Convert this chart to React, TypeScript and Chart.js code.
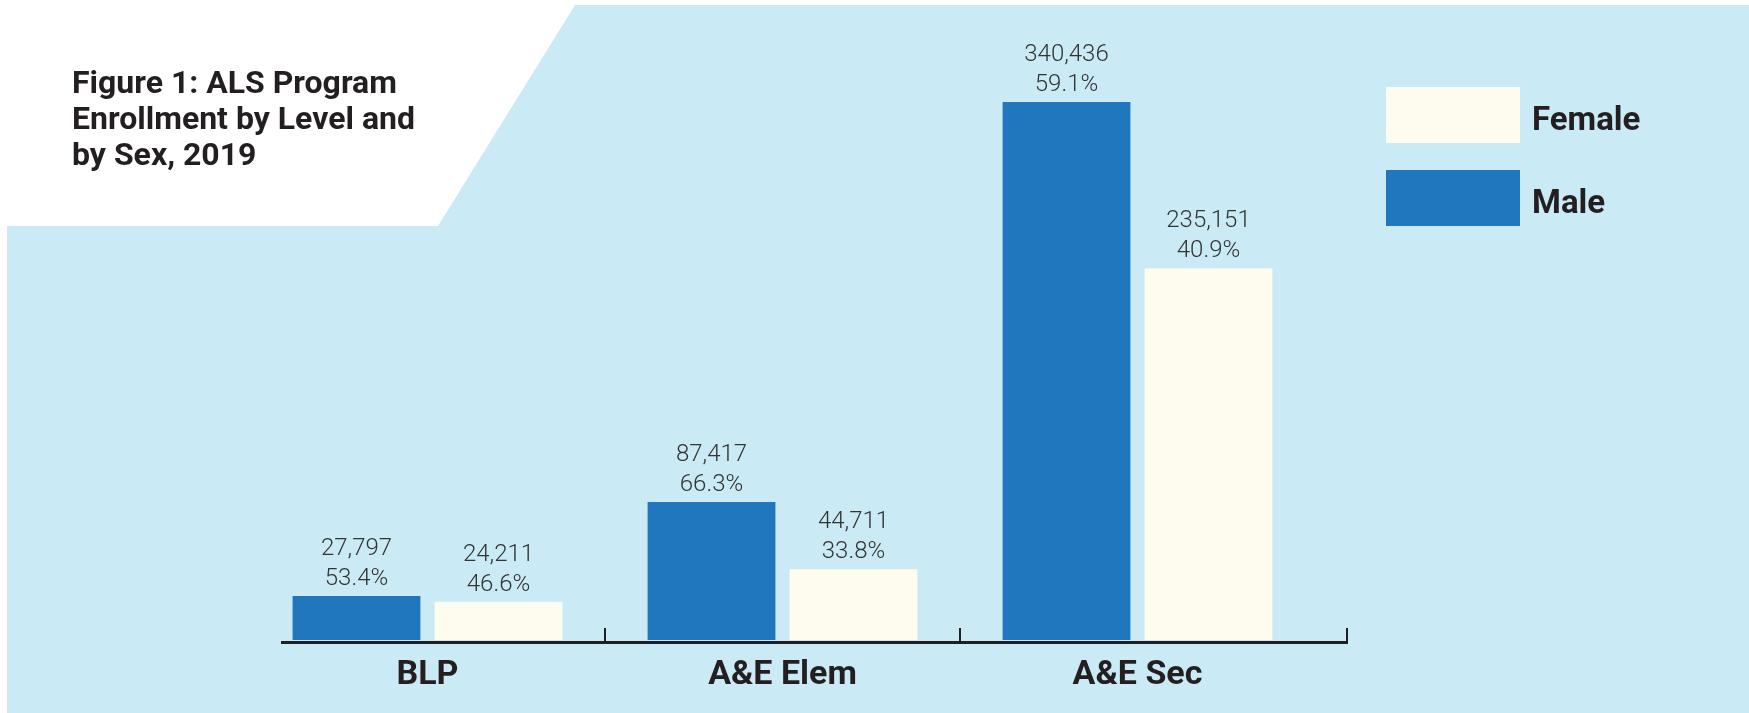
import React, { useEffect, useRef } from "react";
import { Chart, registerables } from "chart.js";

Chart.register(...registerables);

const categories = ["BLP", "A&E Elem", "A&E Sec"];
const maleValues = [27797, 87417, 340436];
const femaleValues = [24211, 44711, 235151];
const malePercents = ["53.4%", "66.3%", "59.1%"];
const femalePercents = ["46.6%", "33.8%", "40.9%"];
const titleLines = ["Figure 1: ALS Program", "Enrollment by Level and", "by Sex, 2019"];
const legendLabels = ["Female", "Male"];

const W = 1749;
const H = 713;
const BG = "#CAEAF5";
const MALE = "#2177BE";
const FEMALE = "#FEFCEF";
const DARK = "#231F20";

const fmt = (v: number) => v.toLocaleString("en-US");

const decorPlugin = {
  id: "decor",
  beforeDraw(chart: any) {
    const ctx = chart.ctx;
    ctx.save();
    ctx.fillStyle = "#ffffff";
    ctx.fillRect(0, 0, W, H);
    ctx.fillStyle = BG;
    ctx.beginPath();
    ctx.moveTo(7, 226);
    ctx.lineTo(438, 226);
    ctx.lineTo(575, 5);
    ctx.lineTo(W, 5);
    ctx.lineTo(W, H);
    ctx.lineTo(7, H);
    ctx.closePath();
    ctx.fill();

    // title
    ctx.fillStyle = DARK;
    ctx.font = "bold 32px Roboto";
    ctx.textAlign = "left";
    ctx.textBaseline = "alphabetic";
    titleLines.forEach((t, i) => ctx.fillText(t, 72, 93 + i * 36));

    // legend
    const colors = [FEMALE, MALE];
    legendLabels.forEach((lab, i) => {
      const y = 87 + i * 83;
      ctx.fillStyle = colors[i];
      ctx.fillRect(1386, y, 134, 56);
      ctx.fillStyle = DARK;
      ctx.font = "bold 33px Roboto";
      ctx.fillText(lab, 1532, y + 43);
    });
    ctx.restore();
  },
  afterDatasetsDraw(chart: any) {
    const ctx = chart.ctx;
    const area = chart.chartArea;
    const xs = chart.scales.x;
    const base = chart.scales.y.getPixelForValue(0);
    ctx.save();
    // axis line
    ctx.strokeStyle = DARK;
    ctx.lineWidth = 3;
    const left = area.left + 31;
    const right = area.right + 33;
    ctx.beginPath();
    ctx.moveTo(left, base + 2.5);
    ctx.lineTo(right, base + 2.5);
    ctx.stroke();
    // ticks between groups
    ctx.lineWidth = 2;
    const tickXs: number[] = [];
    for (let i = 0; i < categories.length - 1; i++) {
      const m0 = chart.getDatasetMeta(1).data[i];
      const m1 = chart.getDatasetMeta(0).data[i + 1];
      tickXs.push(((m0.x + m0.width / 2) + (m1.x - m1.width / 2)) / 2);
    }
    tickXs.push(right - 1);
    tickXs.forEach((tx) => {
      ctx.beginPath();
      ctx.moveTo(tx, base - 12);
      ctx.lineTo(tx, base + 3);
      ctx.stroke();
    });
    // category labels
    ctx.fillStyle = DARK;
    ctx.font = "bold 34px Roboto";
    ctx.textAlign = "center";
    ctx.textBaseline = "alphabetic";
    categories.forEach((c, i) => {
      ctx.fillText(c, xs.getPixelForValue(i), 684);
    });
    // value labels
    ctx.fillStyle = "#333333";
    ctx.font = "300 24px Roboto";
    const pcts = [malePercents, femalePercents];
    chart.data.datasets.forEach((ds: any, di: number) => {
      chart.getDatasetMeta(di).data.forEach((bar: any, i: number) => {
        ctx.fillText(fmt(ds.data[i]), bar.x, bar.y - 41);
        ctx.fillText(pcts[di][i], bar.x, bar.y - 11);
      });
    });
    ctx.restore();
  },
};

export default function App() {
  const ref = useRef<HTMLCanvasElement | null>(null);
  useEffect(() => {
    let chart: Chart | null = null;
    let cancelled = false;
    const make = () => {
      if (cancelled || !ref.current) return;
      chart = new Chart(ref.current, {
        type: "bar",
        data: {
          labels: categories,
          datasets: [
            { label: "Male", data: maleValues, backgroundColor: MALE, borderWidth: 0 },
            { label: "Female", data: femaleValues, backgroundColor: FEMALE, borderWidth: 0 },
          ],
        },
        options: {
          responsive: false,
          animation: false,
          layout: { padding: { left: 250, right: 434, top: 8, bottom: 73 } },
          plugins: { legend: { display: false }, title: { display: false }, tooltip: { enabled: false } },
          scales: {
            x: { display: false },
            y: { display: false, min: 0, max: 400000 },
          },
        },
        plugins: [decorPlugin],
      });
    };
    const fonts = (document as any).fonts;
    if (fonts && fonts.load) {
      Promise.all([
        fonts.load("bold 30px Roboto"),
        fonts.load("300 24px Roboto"),
      ]).then(make, make);
    } else {
      make();
    }
    return () => {
      cancelled = true;
      if (chart) chart.destroy();
    };
  }, []);
  return (
    <div style={{ position: "fixed", left: 0, top: 0, width: W, height: H }}>
      <canvas ref={ref} width={W} height={H} style={{ display: "block", width: W, height: H }} />
    </div>
  );
}
